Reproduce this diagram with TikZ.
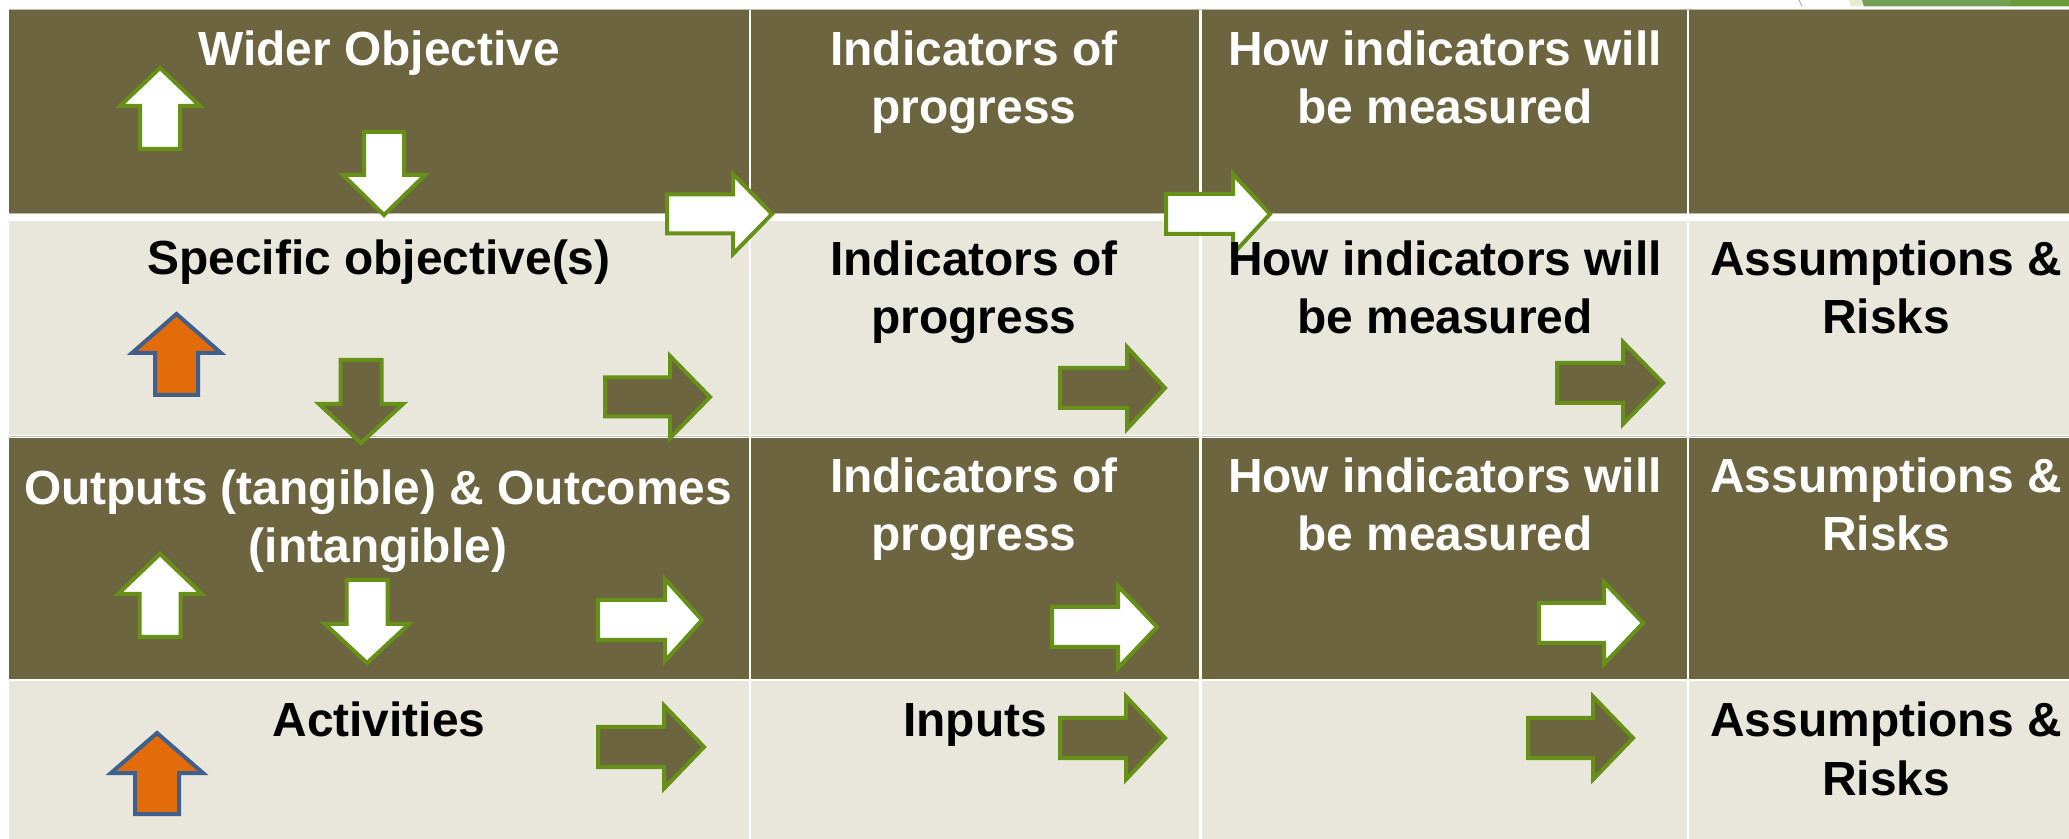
\documentclass[tikz,border=0pt]{standalone}
\usepackage{fontspec}
\setmainfont{Liberation Sans}
\definecolor{olive}{HTML}{6D6440}
\definecolor{pale}{HTML}{E9E7DC}
\definecolor{leaf}{HTML}{669018}
\definecolor{navy}{HTML}{3F5F8C}
\definecolor{flame}{HTML}{E36C0A}
\definecolor{edgegrey}{HTML}{BDBAAE}
\definecolor{pastel}{HTML}{E4EDD3}
\definecolor{midgreen}{HTML}{74A055}
\definecolor{deepgreen}{HTML}{6A9B3A}
\tikzset{
  whitearrow/.style={draw=leaf,fill=white,line width=2pt,miter limit=10},
  olivearrow/.style={draw=leaf,fill=olive,line width=2pt,miter limit=10},
  flamearrow/.style={draw=navy,fill=flame,line width=2pt,miter limit=10},
  oliverow/.style={fill=olive},
  palerow/.style={fill=pale},
  lighttext/.style={text=white,font=\bfseries\fontsize{23.95}{29}\selectfont,align=center,anchor=base,inner sep=0pt},
  darktext/.style={text=black,font=\bfseries\fontsize{23.95}{29}\selectfont,align=center,anchor=base,inner sep=0pt},
}
% style, tail x, base x, tip x, centre y, shaft half, head half (outer edges)
\newcommand{\rarrow}[7]{\draw[#1] ({#2+2},{#5-#6+2}) -- ({#3+2},{#5-#6+2}) -- ({#3+2},{#5-#7+3}) -- ({#4-2},#5) -- ({#3+2},{#5+#7-3}) -- ({#3+2},{#5+#6-2}) -- ({#2+2},{#5+#6-2}) -- cycle;}
% style, centre x, tip y, base y, tail y, shaft half, head half
\newcommand{\uarrow}[7]{\draw[#1] ({#2-#6+2},{#5-2}) -- ({#2-#6+2},{#4-2}) -- ({#2-#7+3},{#4-2}) -- (#2,{#3+2}) -- ({#2+#7-3},{#4-2}) -- ({#2+#6-2},{#4-2}) -- ({#2+#6-2},{#5-2}) -- cycle;}
\newcommand{\darrow}[7]{\draw[#1] ({#2-#6+2},{#5+2}) -- ({#2-#6+2},{#4+2}) -- ({#2-#7+3},{#4+2}) -- (#2,{#3-2}) -- ({#2+#7-3},{#4+2}) -- ({#2+#6-2},{#4+2}) -- ({#2+#6-2},{#5+2}) -- cycle;}
\begin{document}
\begin{tikzpicture}[x=0.5pt,y=-0.5pt]
\useasboundingbox (0,0) rectangle (2069,839);
\fill[white] (0,0) rectangle (2069,839);
% corner decoration
\fill[pastel] (1849,0) -- (1851,6.5) -- (1864,6.5) -- (1862,0) -- cycle;
\fill[midgreen] (1862,0) -- (1864,6.5) -- (2007,6.5) -- (2010,0) -- cycle;
\fill[deepgreen] (2010,0) -- (2007,6.5) -- (2069,6.5) -- (2069,0) -- cycle;
\draw[edgegrey,line width=0.6pt] (1799,0) -- (1802,6.5);
% rows
\fill[edgegrey] (9,9) rectangle (2069,10);
\foreach \a/\b in {9/749,751/1199,1202/1687,1689/2069}{
  \fill[oliverow] (\a,10) rectangle (\b,213);
  \fill[palerow] (\a,221) rectangle (\b,435);
  \fill[oliverow] (\a,438) rectangle (\b,679);
  \fill[palerow] (\a,681) rectangle (\b,839);
}
\foreach \a/\b in {9/749,751/1199,1202/1687,1689/2069}{
  \fill[edgegrey] (\a,213) rectangle (\b,214);
  \fill[edgegrey] (\a,436) rectangle (\b,437.5);
}
% arrows
\uarrow{whitearrow}{160}{66}{108}{151}{22}{43}
\darrow{whitearrow}{384}{217}{173}{130}{22}{44}
\rarrow{whitearrow}{665}{731}{774}{214}{21.5}{43}
\rarrow{whitearrow}{1164}{1231}{1272}{214}{22}{43}
\uarrow{flamearrow}{176.5}{312}{355}{397}{23.5}{47.5}
\darrow{olivearrow}{361}{445}{402}{358}{22.5}{45}
\rarrow{olivearrow}{603}{668}{712}{397}{21.5}{44}
\rarrow{olivearrow}{1058}{1125}{1167}{388}{22}{44}
\rarrow{olivearrow}{1555}{1621}{1665}{383}{22}{44}
\uarrow{whitearrow}{160}{552}{596}{639}{22.5}{45}
\darrow{whitearrow}{367}{665}{622}{578}{22.5}{45}
\rarrow{whitearrow}{596}{663}{704}{620}{22}{44}
\rarrow{whitearrow}{1050}{1116}{1159}{627}{22}{44}
\rarrow{whitearrow}{1537}{1602}{1645}{623}{22}{44}
\uarrow{flamearrow}{157}{731}{775}{816}{24}{49}
\rarrow{olivearrow}{596}{662}{706}{747}{22}{44.5}
\rarrow{olivearrow}{1058}{1124}{1167}{738}{22}{44.5}
\rarrow{olivearrow}{1526}{1591}{1635}{738}{22}{44.5}
% texts (a two-line node is placed by the baseline of its last line)
\node[lighttext] (wider) at (379,66) {Wider Objective};
\node[lighttext] (ind1) at (974,124) {Indicators of\\progress};
\node[lighttext] (how1) at (1445,124) {How indicators will\\be measured};
\node[darktext] (spec) at (379,275) {Specific objective(s)};
\node[darktext] (ind2) at (974,334) {Indicators of\\progress};
\node[darktext] (how2) at (1445,334) {How indicators will\\be measured};
\node[darktext] (ass2) at (1886,334) {Assumptions \&\\Risks};
\node[lighttext] (out) at (378,563) {Outputs (tangible) \& Outcomes\\(intangible)};
\node[lighttext] (ind3) at (974,551) {Indicators of\\progress};
\node[lighttext] (how3) at (1445,551) {How indicators will\\be measured};
\node[lighttext] (ass3) at (1886,551) {Assumptions \&\\Risks};
\node[darktext] (act) at (379,737) {Activities};
\node[darktext] (inp) at (975,737) {Inputs};
\node[darktext] (ass4) at (1886,795) {Assumptions \&\\Risks};
\end{tikzpicture}
\end{document}
